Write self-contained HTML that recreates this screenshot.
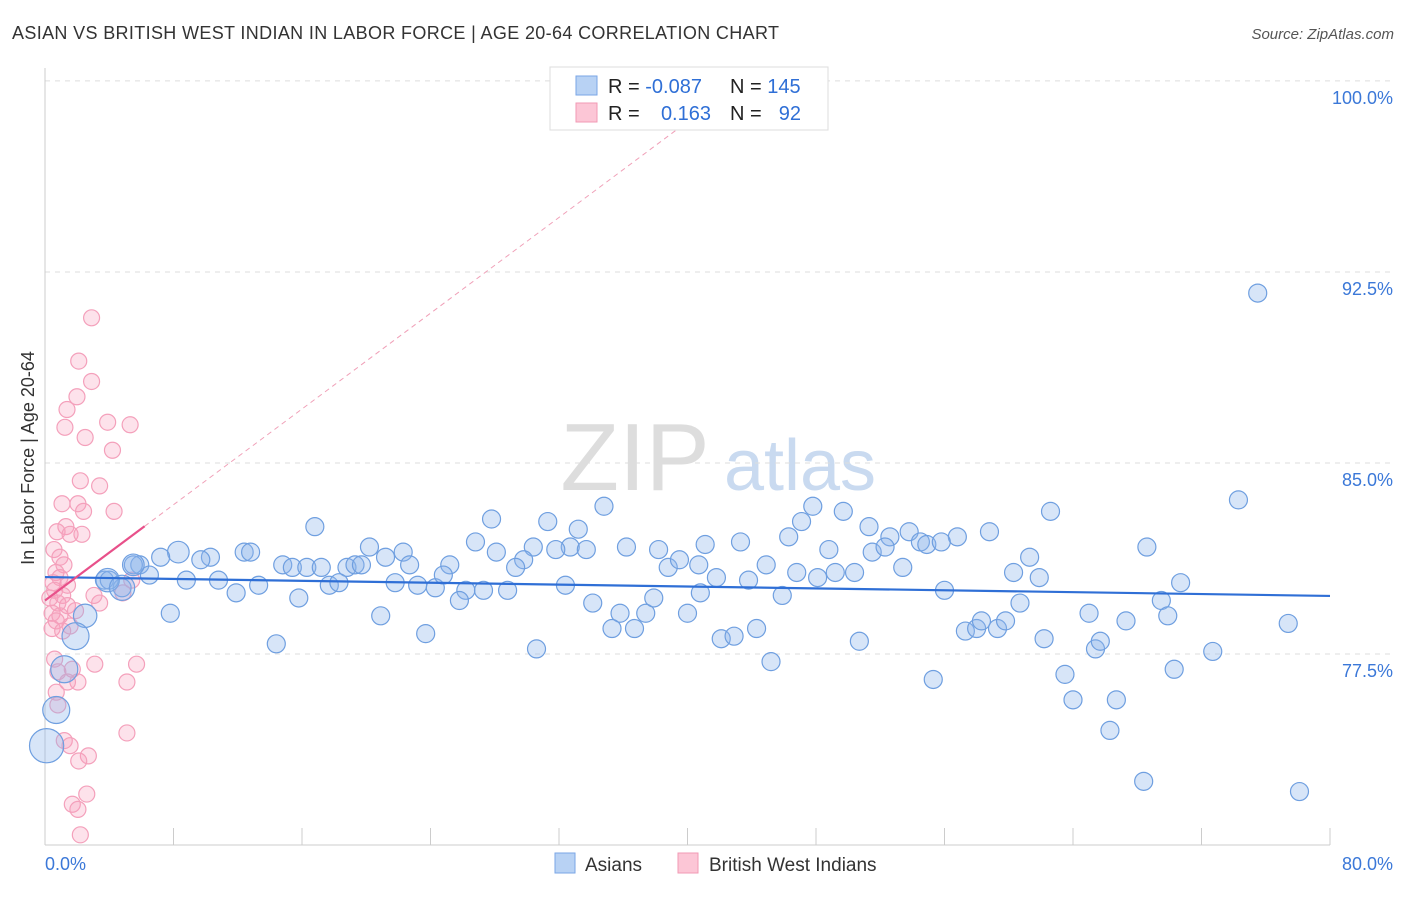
<!DOCTYPE html>
<html><head><meta charset="utf-8"><style>
body{margin:0;background:#fff;font-family:"Liberation Sans",sans-serif;}
svg text{font-family:"Liberation Sans",sans-serif;}
</style></head><body>
<svg id="chart" width="1406" height="892" xmlns="http://www.w3.org/2000/svg">
<text x="12" y="39" font-size="18" fill="#333" textLength="767">ASIAN VS BRITISH WEST INDIAN IN LABOR FORCE | AGE 20-64 CORRELATION CHART</text>
<text x="1394" y="39" font-size="15" fill="#555" text-anchor="end" font-style="italic">Source: ZipAtlas.com</text>
<g>
<text x="635" y="490" font-size="96" fill="#ddd" font-family="Liberation Serif" text-anchor="middle">ZIP</text>
<text x="800" y="490" font-size="72" fill="#c9daf0" text-anchor="middle">atlas</text>
</g>
<g id="grid"></g>
<g id="axes"></g>
<g id="pink"></g>
<g id="blue"></g>
<g id="trends"></g>
<text transform="translate(34,458) rotate(-90)" font-size="18" fill="#333" text-anchor="middle">In Labor Force | Age 20-64</text>
<g>
<rect x="550" y="67" width="278" height="63" fill="#fff" stroke="#ddd"/>
<rect x="576" y="76" width="21" height="19" fill="#b8d2f4" stroke="#7aa6e6"/>
<rect x="576" y="103" width="21" height="19" fill="#fcc6d6" stroke="#f29ab4"/>
<text x="608" y="93" font-size="20" fill="#222">R = <tspan fill="#2f6fd6">-0.087</tspan></text>
<text x="730" y="93" font-size="20" fill="#222">N = <tspan fill="#2f6fd6">145</tspan></text>
<text x="608" y="120" font-size="20" fill="#222">R = </text>
<text x="711" y="120" font-size="20" fill="#2f6fd6" text-anchor="end">0.163</text>
<text x="730" y="120" font-size="20" fill="#222">N = </text>
<text x="801" y="120" font-size="20" fill="#2f6fd6" text-anchor="end">92</text>
</g>
<g>
<rect x="555" y="853" width="20" height="20" fill="#b8d2f4" stroke="#7aa6e6"/>
<text x="585" y="871" font-size="19" fill="#333">Asians</text>
<rect x="678" y="853" width="20" height="20" fill="#fcc6d6" stroke="#f29ab4"/>
<text x="709" y="871" font-size="19" fill="#333">British West Indians</text>
</g>
</svg>
<script>
const yTicks=[77.5,85.0,92.5,100.0];
const yTickLabels=["77.5%","85.0%","92.5%","100.0%"];
const xTickLabels=["0.0%","80.0%"];
const blueX=[75.5,74.3,62.6,34.8,47.8,49.7,27.8,31.3,16.8,33.2,47.1,51.3,53.8,58.8,68.6,52.6,56.8,46.3,43.3,41.1,36.2,38.2,32.7,33.7,30.4,31.8,26.8,28.1,29.8,20.2,22.3,21.2,22.7,25.2,29.3,12.4,12.8,10.3,8.3,9.7,7.2,5.9,6.5,5.5,3.7,4.8,4.0,8.8,10.8,11.9,13.3,14.8,15.4,16.3,17.2,18.8,19.3,19.7,17.7,18.3,21.8,15.8,23.2,24.3,24.8,26.2,27.3,28.8,25.8,32.4,34.1,35.8,35.3,36.7,37.4,37.9,38.8,39.5,40.7,40.0,40.8,41.8,43.8,44.9,45.9,46.8,48.1,49.2,50.4,48.8,51.5,52.3,53.4,54.5,54.9,55.8,56.0,42.1,42.9,44.3,45.2,50.7,55.3,57.3,58.0,58.3,59.3,59.8,60.3,61.3,61.9,60.7,62.2,63.5,64.0,65.0,65.4,65.7,66.3,66.7,67.3,68.4,69.5,69.9,70.3,70.7,72.7,77.4,78.1,30.6,23.7,20.9,14.4,7.8,5.5,3.9,4.8,2.5,1.9,1.2,0.7,0.1];
const blueY=[91.67,83.55,83.1,83.3,83.3,83.1,82.8,82.7,82.5,82.4,82.7,82.5,82.3,82.3,81.7,82.1,82.1,82.1,81.9,81.8,81.7,81.6,81.7,81.6,81.7,81.6,81.9,81.5,81.2,81.7,81.5,81.3,81.0,81.0,80.9,81.5,81.5,81.3,81.5,81.2,81.3,81.0,80.6,81.0,80.4,80.1,80.4,80.4,80.4,79.9,80.2,81.0,80.9,80.9,80.9,80.9,81.0,81.0,80.2,80.3,80.3,79.7,80.2,80.1,80.6,80.0,80.0,80.0,79.6,80.2,79.5,79.1,78.5,78.5,79.1,79.7,80.9,81.2,81.0,79.1,79.9,80.5,80.4,81.0,79.8,80.7,80.5,80.7,80.7,81.6,81.5,81.7,80.9,81.9,81.8,81.9,80.0,78.1,78.2,78.5,77.2,78.0,76.5,78.4,78.5,78.8,78.5,78.8,80.7,81.3,80.5,79.5,78.1,76.7,75.7,79.1,77.7,78.0,74.5,75.7,78.8,72.5,79.6,79.0,76.9,80.3,77.6,78.7,72.1,77.7,78.3,79.0,77.9,79.1,81.0,80.4,80.1,79.0,78.2,76.9,75.3,73.9];
const blueW=[1,1,1,1,1,1,1,1,1,1,1,1,1,1,1,1,1,1,1,1,1,1,1,1,1,1,1,1,1,1,1,1,1,1,1,1,1,1,1.2,1,1,1,1,1,1,1,1,1,1,1,1,1,1,1,1,1,1,1,1,1,1,1,1,1,1,1,1,1,1,1,1,1,1,1,1,1,1,1,1,1,1,1,1,1,1,1,1,1,1,1,1,1,1,1,1,1,1,1,1,1,1,1,1,1,1,1,1,1,1,1,1,1,1,1,1,1,1,1,1,1,1,1,1,1,1,1,1,1,1,1,1,1,1,1,1.2,1.3,1.4,1.3,1.5,1.5,1.5,1.9,2.1];
const pinkX=[2.9,2.1,2.9,1.99,1.37,1.24,3.9,5.3,2.5,4.2,2.2,3.4,1.06,2.05,2.4,4.3,1.3,0.75,1.56,2.3,0.56,0.93,1.18,0.68,0.93,0.5,1.4,0.6,1.1,0.3,0.8,1.4,1.9,0.44,0.93,0.7,1.56,0.44,1.1,3.4,5.4,4.85,3.05,0.6,0.8,1.7,3.1,5.7,5.1,2.05,1.4,0.7,0.8,5.1,1.2,1.56,2.7,2.1,2.6,1.7,2.05,2.2];
const pinkY=[90.7,89.0,88.2,87.6,87.1,86.4,86.6,86.5,86.0,85.5,84.3,84.1,83.4,83.4,83.1,83.1,82.5,82.3,82.2,82.2,81.6,81.3,81.0,80.7,80.5,80.3,80.2,80.0,79.8,79.7,79.5,79.4,79.2,79.1,79.0,78.8,78.6,78.5,78.4,79.5,80.4,79.9,79.8,77.3,76.8,76.9,77.1,77.1,76.4,76.4,76.4,76.0,75.5,74.4,74.1,73.9,73.5,73.3,72.0,71.6,71.4,70.4];
const blueTrend=[80.52,79.78];
const pinkTrend=[79.6,0.47];

const NS="http://www.w3.org/2000/svg";
const X0=45,X1=1330;
function sx(v){return X0+(v/80)*(X1-X0);}
function sy(v){return 654-(v-77.5)*25.47;}
function mk(tag,attrs,parent){const e=document.createElementNS(NS,tag);for(const k in attrs)e.setAttribute(k,attrs[k]);parent.appendChild(e);return e;}
const grid=document.getElementById('grid'),axes=document.getElementById('axes');
yTicks.forEach((t,i)=>{
 const l=mk('line',{x1:X0,x2:1394,y1:sy(t),y2:sy(t),stroke:'#ddd','stroke-dasharray':'5,5'},grid);
 
 
 const tx=mk('text',{x:1393,y:sy(t)+23,'font-size':18,fill:'#3b78d8','text-anchor':'end'},axes);
 tx.textContent=yTickLabels[i];
 
 
});
const xa=mk('line',{x1:X0,x2:X1,y1:845,y2:845,stroke:'#ccc'},axes);


const ya=mk('line',{x1:X0,x2:X0,y1:68,y2:845,stroke:'#ccc'},axes);


for(let i=0;i<=10;i++){
 const t=mk('line',{x1:sx(i*8),x2:sx(i*8),y1:828,y2:845,stroke:'#ccc'},axes);
 
 
}
[[0,'start',45],[80,'end',1393]].forEach((d,i)=>{
 const t=mk('text',{x:d[2],y:870,'font-size':18,fill:'#3b78d8','text-anchor':d[1]},axes);
 t.textContent=xTickLabels[i];
 
 
});
const pg=document.getElementById('pink');
pinkX.forEach((x,i)=>{
 const c=mk('circle',{cx:sx(x),cy:sy(pinkY[i]),r:8,fill:'rgba(248,160,190,0.3)',stroke:'#f4a0bb','stroke-width':1.2},pg);
 
 
});
const bg=document.getElementById('blue');
blueX.forEach((x,i)=>{
 const c=mk('circle',{cx:sx(x),cy:sy(blueY[i]),r:9*blueW[i],fill:'rgba(140,180,235,0.35)',stroke:'#6f9fe0','stroke-width':1.2},bg);
 
 
});
const tg=document.getElementById('trends');
const bt=mk('line',{x1:sx(0),y1:sy(blueTrend[0]),x2:sx(80),y2:sy(blueTrend[1]),stroke:'#2f6fd6','stroke-width':2.2},tg);


const xEnd=(100-pinkTrend[0])/pinkTrend[1];
const pd=mk('line',{x1:sx(6.2),y1:sy(pinkTrend[0]+pinkTrend[1]*6.2),x2:sx(xEnd),y2:sy(100),stroke:'#f0a0b8','stroke-width':1,'stroke-dasharray':'5,4'},tg);


const ps=mk('line',{x1:sx(0),y1:sy(pinkTrend[0]),x2:sx(6.2),y2:sy(pinkTrend[0]+pinkTrend[1]*6.2),stroke:'#e8508a','stroke-width':2.2},tg);


</script>
</body></html>
